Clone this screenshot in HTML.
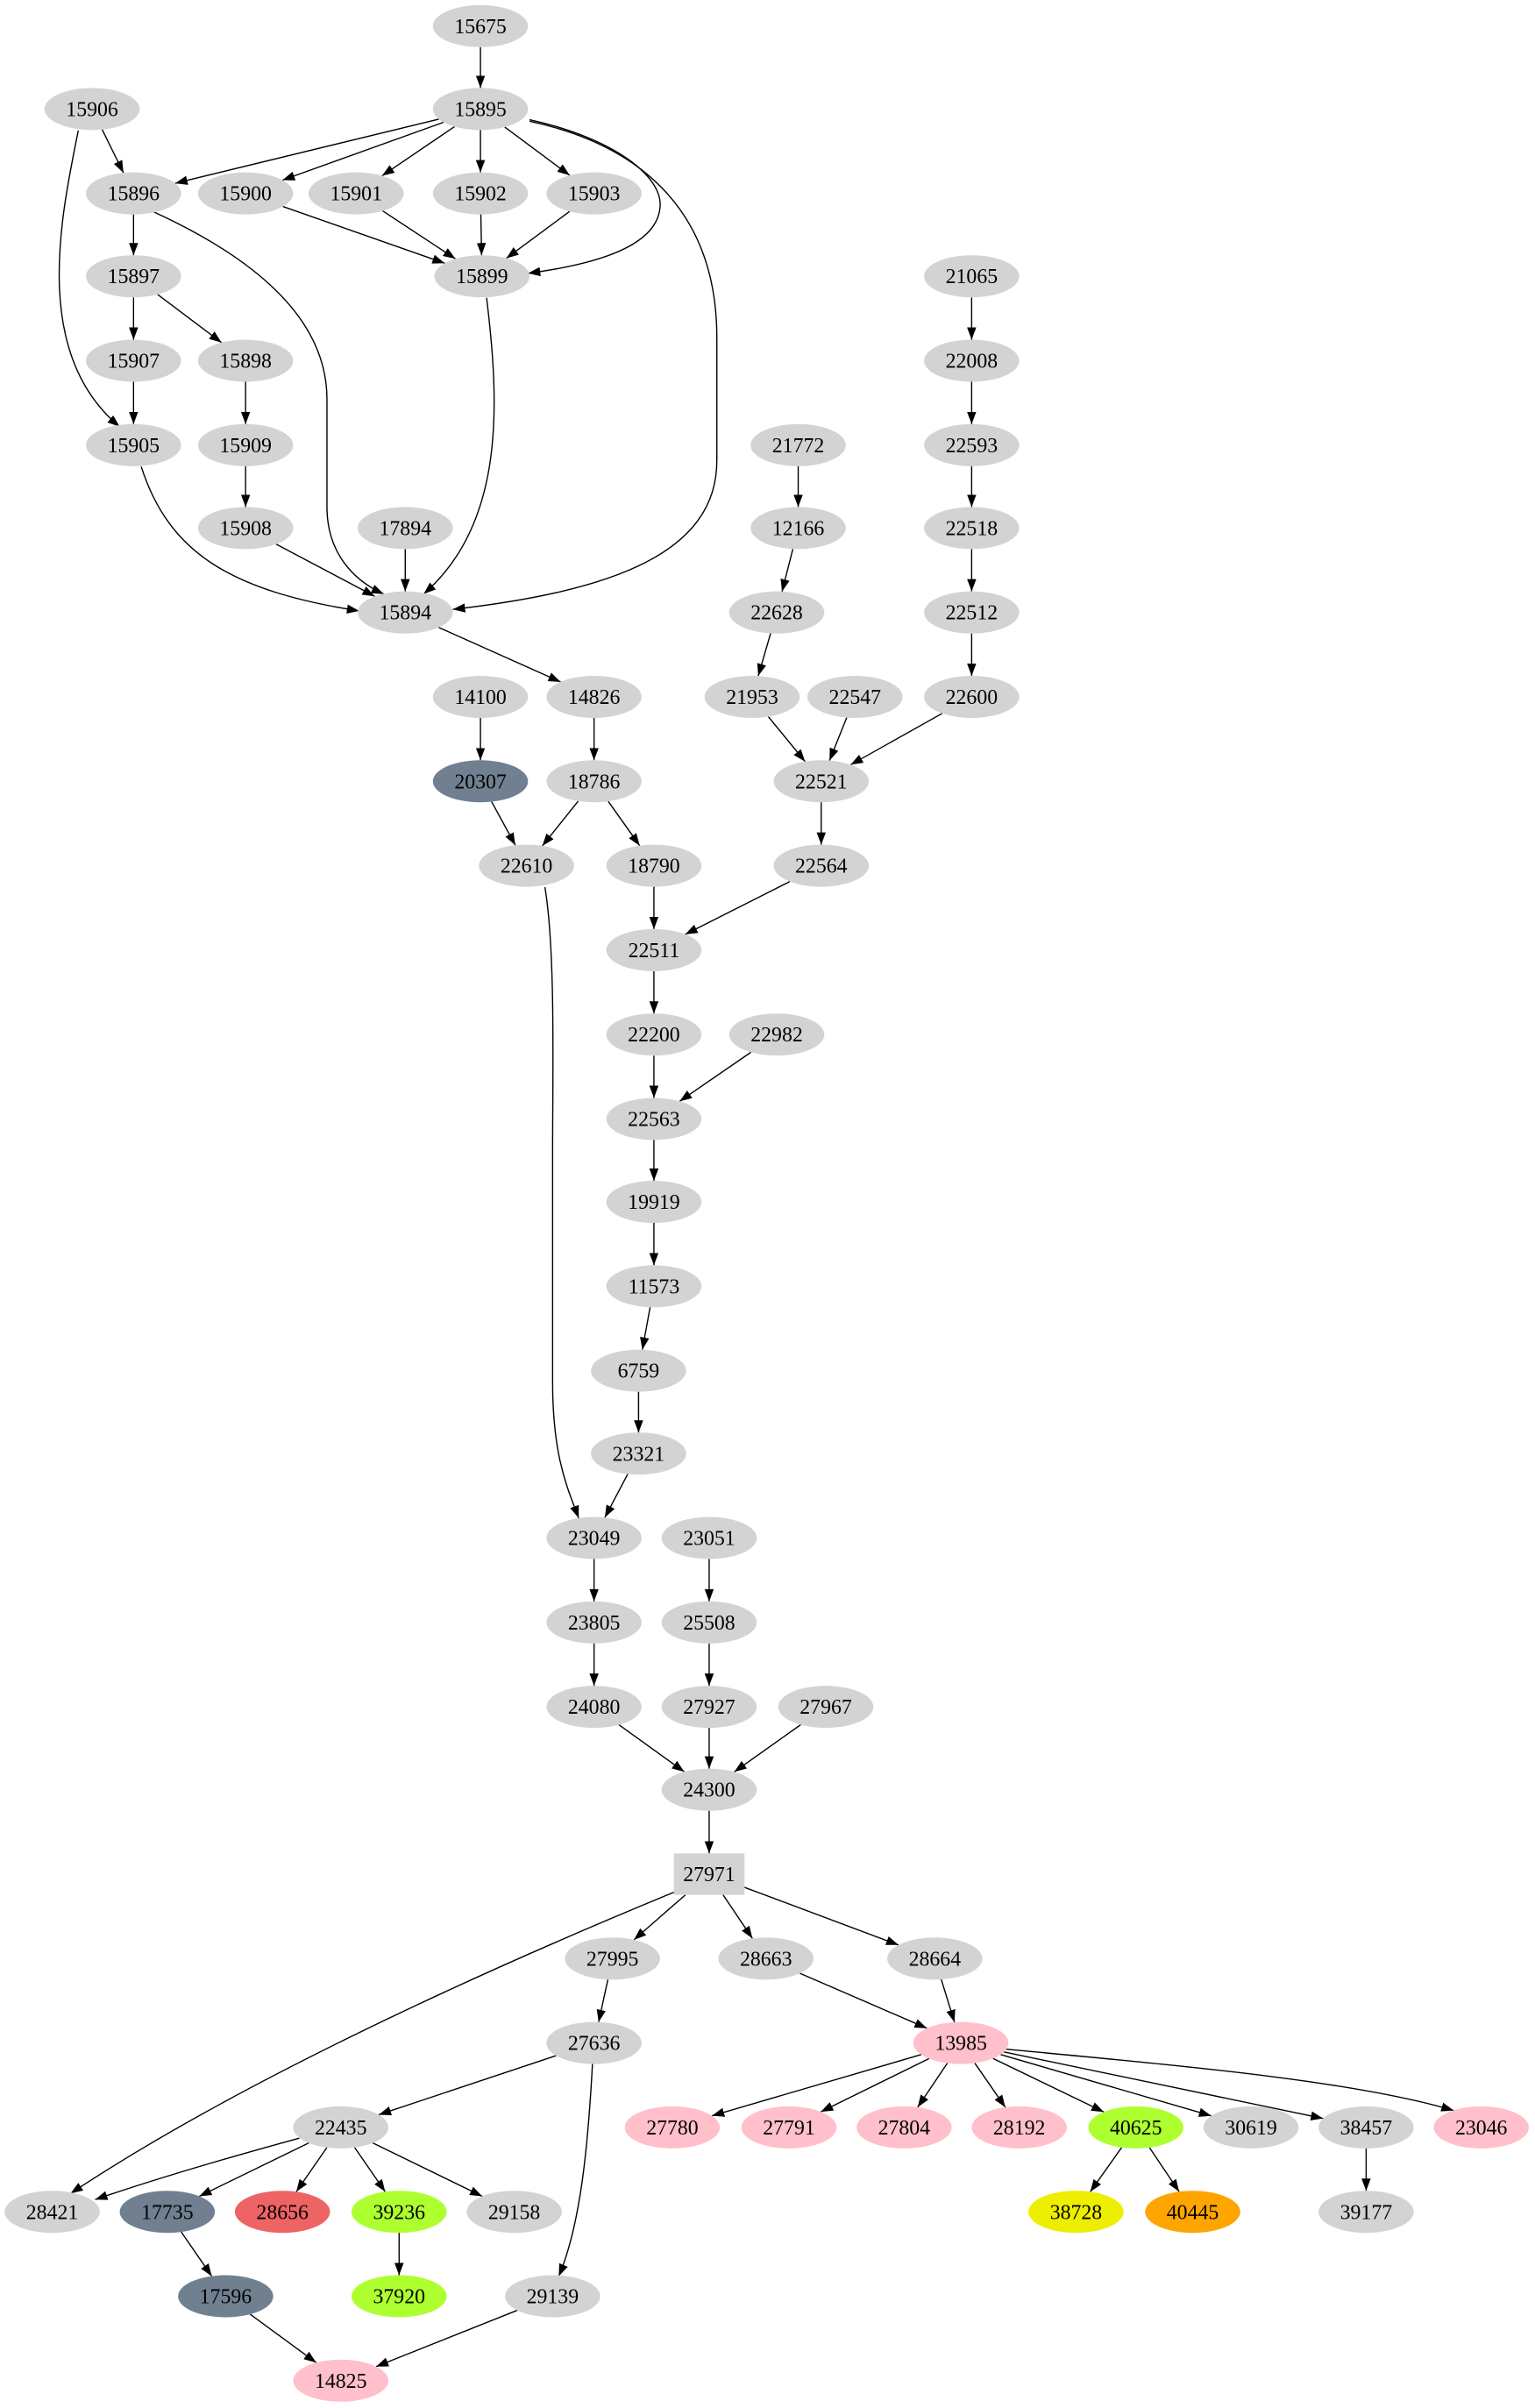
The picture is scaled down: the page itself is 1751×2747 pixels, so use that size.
<!DOCTYPE html>
<html><head><meta charset="utf-8"><style>
html,body{margin:0;padding:0;background:#fff;}
svg{display:block;}
text{font-family:"Liberation Serif",serif;font-size:13.6px;fill:#000;}
</style></head><body>
<svg id="g" width="1751" height="2747" viewBox="0 0 1000 1568.8" xmlns="http://www.w3.org/2000/svg">
<defs><marker id="a" markerUnits="userSpaceOnUse" markerWidth="10" markerHeight="8" refX="8" refY="3" orient="auto"><path d="M0,0 L8,3 L0,6 z" fill="#000"/></marker></defs>
<g id="edges" fill="none" stroke="#000" stroke-width="0.8"></g>
<g id="nodes"></g>
</svg>
<script>
var N={
"15675":[313,17],"15906":[60,71],"15895":[313,71],
"15896":[87,126],"15900":[160,126],"15901":[232,126],"15902":[313,126],"15903":[387,126],
"15897":[87,180],"15899":[314,180],"21065":[633,180],
"15907":[87,235],"15898":[160,235],"22008":[633,235],
"15905":[87,290],"15909":[160,290],"21772":[520,290],"22593":[633,290],
"15908":[160,344],"17894":[264,344],"12166":[520,344],"22518":[633,344],
"15894":[264,399],"22628":[506,399],"22512":[633,399],
"14100":[313,454],"14826":[387,454],"21953":[490,454],"22547":[557,454],"22600":[633,454],
"20307":[313,509,"#708090"],"18786":[387,509],"22521":[535,509],
"22610":[343,564],"18790":[426,564],"22564":[535,564],
"22511":[426,619],"22200":[426,674],"22982":[506,674],"22563":[426,729],
"19919":[426,783],"11573":[426,838],"6759":[416,893],"23321":[416,947],
"23049":[387,1002],"23051":[462,1002],"23805":[387,1057],"25508":[462,1057],
"24080":[387,1112],"27927":[462,1112],"27967":[538,1112],"24300":[462,1166],
"27971":[462,1221,"#d3d3d3","box"],
"27995":[399,1276],"28663":[499,1276],"28664":[609,1276],
"27636":[387,1331],"13985":[626,1331,"#ffc0cb"],
"22435":[222,1386],"27780":[438,1386,"#ffc0cb"],"27791":[514,1386,"#ffc0cb"],"27804":[589,1386,"#ffc0cb"],"28192":[664,1386,"#ffc0cb"],"40625":[740,1386,"#adff2f"],"30619":[815,1386],"38457":[890,1386],"23046":[965,1386,"#ffc0cb"],
"28421":[34,1441],"17735":[109,1441,"#708090"],"28656":[184,1441,"#ee6363"],"39236":[260,1441,"#adff2f"],"29158":[335,1441],"38728":[701,1441,"#eeee00"],"40445":[777,1441,"#ffa500"],"39177":[890,1441],
"17596":[147,1496,"#708090"],"37920":[260,1496,"#adff2f"],"29139":[360,1496],
"14825":[222,1551,"#ffc0cb"]};
var RX=31,RY=13.7;
var E=[["15675","15895"],["15906","15896"],["15895","15896"],["15895","15900"],["15895","15901"],["15895","15902"],["15895","15903"],
["15900","15899"],["15901","15899"],["15902","15899"],["15903","15899"],["15896","15897"],["15897","15907"],["15897","15898"],
["15907","15905"],["15898","15909"],["15909","15908"],["15908","15894"],["17894","15894"],["15894","14826"],
["21065","22008"],["22008","22593"],["22593","22518"],["22518","22512"],["22512","22600"],["21772","12166"],["12166","22628"],["22628","21953"],
["21953","22521"],["22547","22521"],["22600","22521"],["22521","22564"],["22564","22511"],
["14100","20307"],["14826","18786"],["20307","22610"],["18786","22610"],["18786","18790"],["18790","22511"],["22511","22200"],["22200","22563"],["22982","22563"],
["22563","19919"],["19919","11573"],["11573","6759"],["6759","23321"],["23321","23049"],["23049","23805"],["23805","24080"],["23051","25508"],["25508","27927"],
["24080","24300"],["27927","24300"],["27967","24300"],["24300","27971"],["27971","27995"],["27971","28663"],["27971","28664"],["27995","27636"],
["28663","13985"],["28664","13985"],["27636","22435"],["13985","27780"],["13985","27791"],["13985","27804"],["13985","28192"],["13985","40625"],["13985","30619"],["13985","38457"],
["22435","17735"],["22435","28656"],["22435","39236"],["22435","29158"],["40625","38728"],["40625","40445"],["38457","39177"],["17735","17596"],["39236","37920"],["17596","14825"],["29139","14825"]];
var P=["M51,85 C40,140 20,230 78,278","M100,138 C170,170 213,210 213,260 L213,330 C213,360 230,378 250,387",
"M345,78 C400,90 432,115 430,135 C428,160 390,172 344,178","M345,79 C420,95 467,140 467,220 L467,300 C467,360 400,385 295,397",
"M317,194 C325,260 330,340 276,387","M92,304 C110,360 150,385 234,398","M355,578 C362,620 360,700 360,750 L360,900 C360,950 370,970 377,989",
"M441,1232 C300,1290 150,1360 46,1429","M655,1335 C760,1345 880,1355 947,1375","M386,1344 C383,1400 378,1450 364,1483","M195,1393 C140,1408 100,1420 62,1433"];
var ns="http://www.w3.org/2000/svg",eg=document.getElementById("edges"),ng=document.getElementById("nodes");
function clip(n,dx,dy){var c=N[n];if(c[3]=="box"){var t=Math.min(23/Math.abs(dx||1e-9),13.5/Math.abs(dy||1e-9));return[c[0]+dx*t,c[1]+dy*t];}
var t=1/Math.sqrt(dx*dx/(RX*RX)+dy*dy/(RY*RY));return[c[0]+dx*t,c[1]+dy*t];}
function path(d){var p=document.createElementNS(ns,"path");p.setAttribute("d",d);p.setAttribute("marker-end","url(#a)");eg.appendChild(p);}
E.forEach(function(e){var a=N[e[0]],b=N[e[1]],dx=b[0]-a[0],dy=b[1]-a[1];var s=clip(e[0],dx,dy),t=clip(e[1],-dx,-dy);path("M"+s[0]+","+s[1]+" L"+t[0]+","+t[1]);});
P.forEach(path);
for(var k in N){var c=N[k],f=c[2]||"#d3d3d3",el;
if(c[3]=="box"){el=document.createElementNS(ns,"rect");el.setAttribute("x",c[0]-23);el.setAttribute("y",c[1]-13.5);el.setAttribute("width",46);el.setAttribute("height",27);}
else{el=document.createElementNS(ns,"ellipse");el.setAttribute("cx",c[0]);el.setAttribute("cy",c[1]);el.setAttribute("rx",RX);el.setAttribute("ry",RY);}
el.setAttribute("fill",f);ng.appendChild(el);
var t=document.createElementNS(ns,"text");t.setAttribute("x",c[0]);t.setAttribute("y",c[1]+4.6);t.setAttribute("text-anchor","middle");t.textContent=k;ng.appendChild(t);}
</script>
</body></html>
